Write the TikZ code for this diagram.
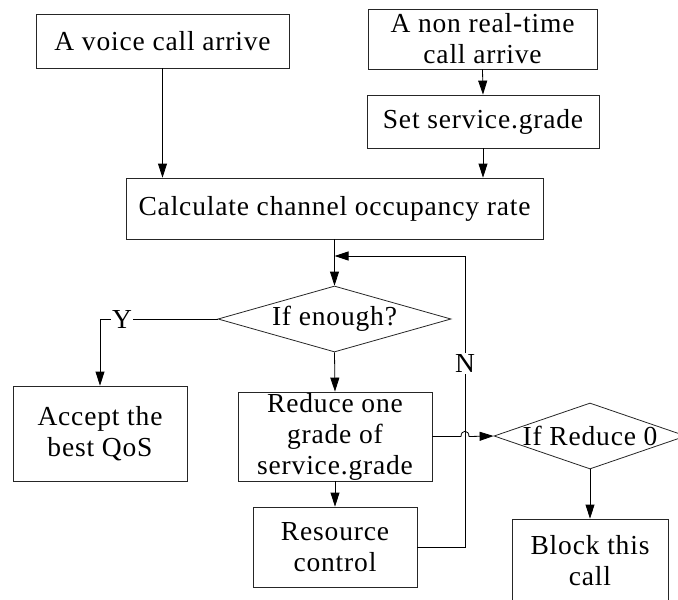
\documentclass[tikz,border=0pt]{standalone}
\usepackage{fontspec}
\setmainfont{Liberation Serif}[LetterSpace=3]
\usetikzlibrary{shapes.geometric,arrows.meta}
\begin{document}
\begin{tikzpicture}[x=1pt,y=-1pt,
  every node/.style={font=\fontsize{27.5}{31}\selectfont},
  box/.style={draw=black!85,line width=0.8pt,rectangle,inner sep=0pt,align=center},
  dia/.style={draw=black!85,line width=0.8pt,diamond,inner sep=0pt},
  arr/.style={line width=0.8pt,-{Triangle[length=14pt,width=9pt]}},
  lab/.style={fill=white,inner sep=1.5pt}]
\useasboundingbox (0,0) rectangle (678,600);
\clip (0,0) rectangle (678,600);
\node[box,minimum width=253pt,minimum height=54pt] (voice) at (162.5,41) {A voice call arrive};
\node[box,minimum width=229pt,minimum height=60pt] (nrt) at (482.5,39) {A non real-time\\call arrive};
\node[box,minimum width=232pt,minimum height=53pt] (set) at (483,121.5) {Set service.grade};
\node[box,minimum width=417pt,minimum height=61pt] (calc) at (334.5,208.5) {Calculate channel occupancy rate};
\node[dia,minimum width=233pt,minimum height=66pt,label={center:If enough?}] (enough) at (334.5,319) {};
\node[box,minimum width=174pt,minimum height=95pt] (accept) at (100,433.5) {Accept the\\best QoS};
\node[box,minimum width=194pt,minimum height=89pt] (reduce) at (335,436.5) {Reduce one\\grade of\\service.grade};
\node[box,minimum width=164pt,minimum height=80pt] (resource) at (335,547) {Resource\\control};
\node[dia,minimum width=192pt,minimum height=66pt,label={center:If Reduce 0}] (r0) at (590,436) {};
\node[box,minimum width=156pt,minimum height=84pt] (block) at (590,561) {Block this\\call};
\coordinate (loopx) at (465,256);
\coordinate (j) at (465,436.5);
% connectors
\draw[arr] (voice.south) -- (voice.south |- calc.north);
\draw[arr] (nrt.south) -- (set.north);
\draw[arr] (set.south) -- (set.south |- calc.north);
\draw[arr] (calc.south) -- (enough.north);
\draw[arr] (enough.south) -- (reduce.north);
\draw[arr] (reduce.south) -- (resource.north);
\draw[arr] (resource.east) -| (loopx) -- (calc.south |- loopx);
\node[lab] (N) at (465,363) {N};
\draw[arr] (enough.west) -| (accept.north);
\node[lab] (Y) at (122,319) {Y};
\draw[arr] (reduce.east) -- ([xshift=-4pt]j) .. controls ([xshift=-4pt,yshift=7pt]j) and ([xshift=4pt,yshift=7pt]j) .. ([xshift=4pt]j) -- (r0.west);
\draw[arr] (r0.south) -- (block.north);
\end{tikzpicture}
\end{document}
